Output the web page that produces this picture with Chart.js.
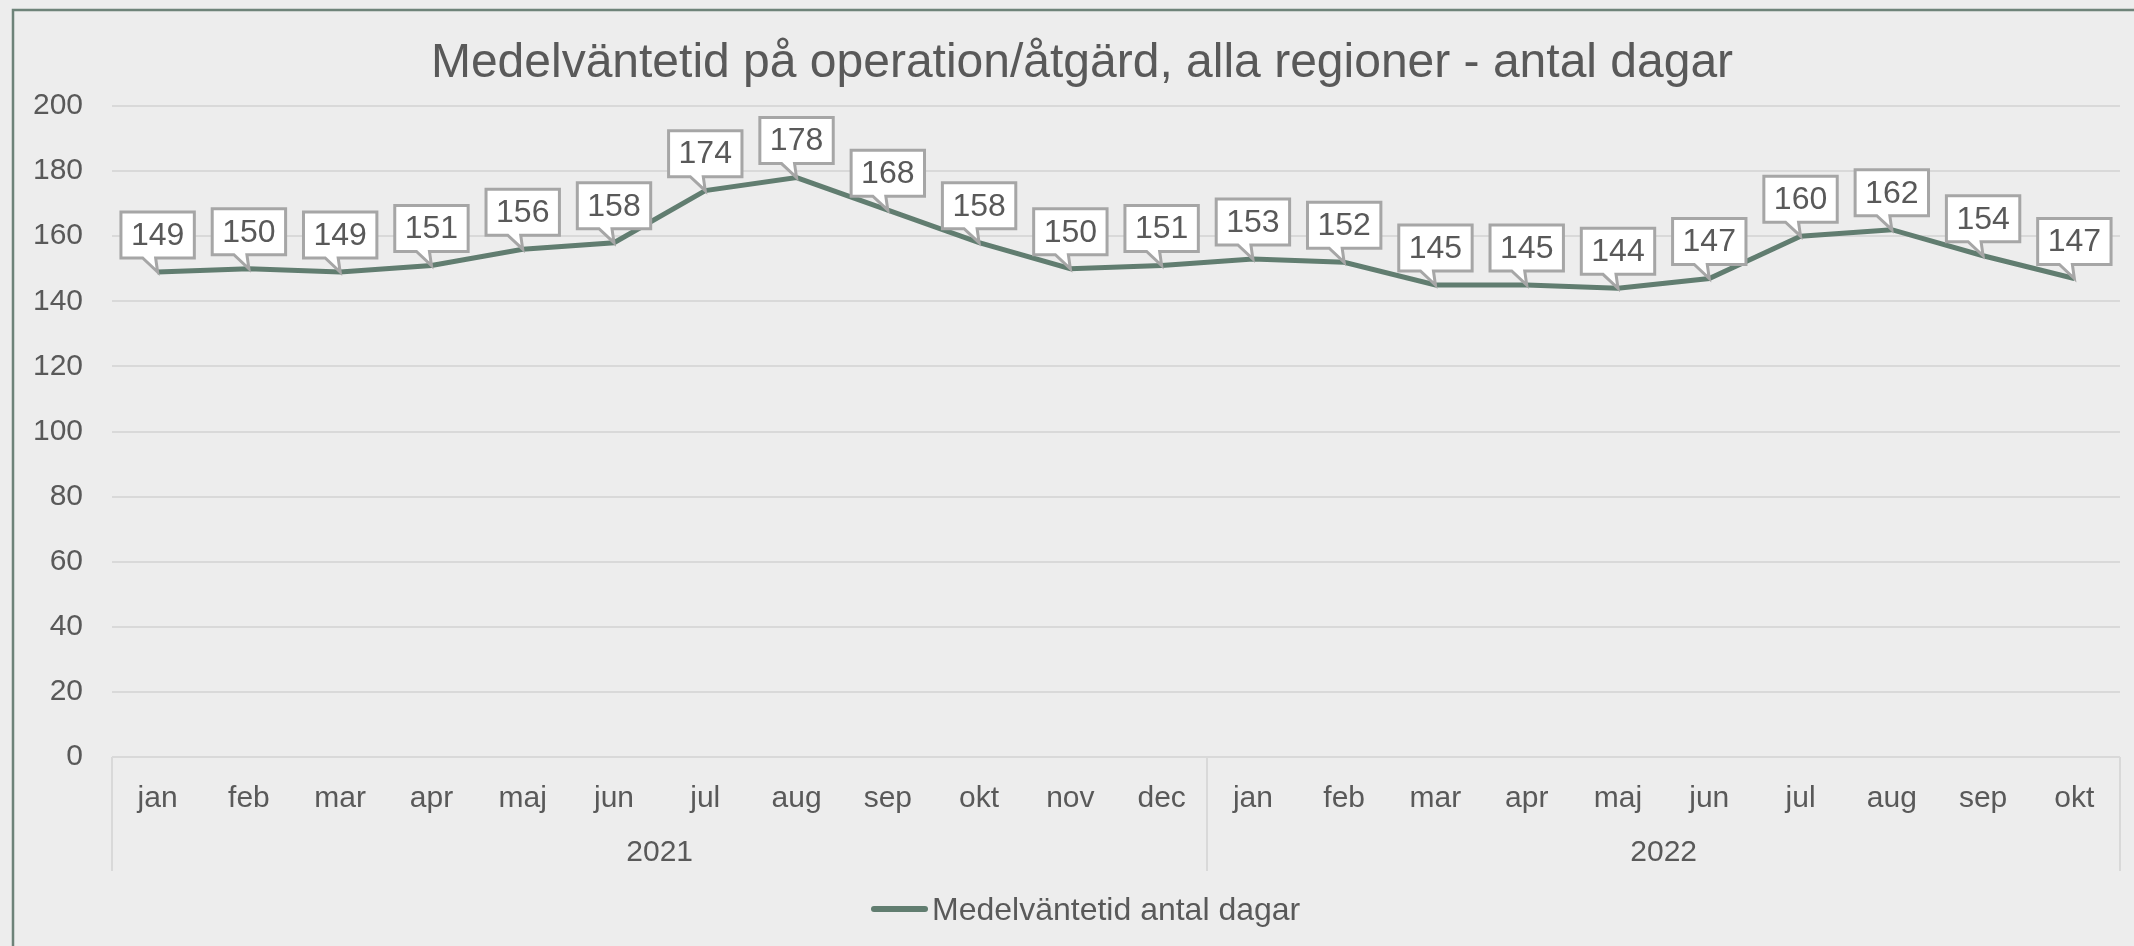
<!DOCTYPE html>
<html lang="sv">
<head>
<meta charset="utf-8">
<title>Medelväntetid på operation/åtgärd</title>
<script src="https://cdn.jsdelivr.net/npm/chart.js@4/dist/chart.umd.min.js"></script>
<style>
  html, body { margin: 0; padding: 0; background: #ededed; overflow: hidden; }
  canvas { display: block; }
</style>
</head>
<body>
<canvas id="waitChart" width="2134" height="946"></canvas>
<script>
const months = ['jan', 'feb', 'mar', 'apr', 'maj', 'jun', 'jul', 'aug', 'sep', 'okt', 'nov', 'dec',
                'jan', 'feb', 'mar', 'apr', 'maj', 'jun', 'jul', 'aug', 'sep', 'okt'];
const years = ['2021', '2022'];
const monthsPerYear = [12, 10];
const waitDays = [149, 150, 149, 151, 156, 158, 174, 178, 168, 158, 150, 151,
                  153, 152, 145, 145, 144, 147, 160, 162, 154, 147];
const yTicks = [0, 20, 40, 60, 80, 100, 120, 140, 160, 180, 200];

const FONT = '"Liberation Sans", Arial, sans-serif';
const TEXT = '#595959';
const GRID = '#d9d9d9';
const LINE = '#617d70';

// background, frame, title, legend, year row and the callout labels
const decorations = {
    id: 'decorations',
    beforeDraw(chart) {
        const ctx = chart.ctx;
        ctx.save();
        ctx.fillStyle = '#ededed';
        ctx.fillRect(0, 0, chart.width, chart.height);
        ctx.strokeStyle = '#6e8379';
        ctx.lineWidth = 2.5;
        ctx.strokeRect(13, 10, chart.width + 20, chart.height + 20);

        ctx.fillStyle = TEXT;
        ctx.font = '48px ' + FONT;
        ctx.textAlign = 'center';
        ctx.textBaseline = 'alphabetic';
        ctx.fillText('Medelväntetid på operation/åtgärd, alla regioner - antal dagar', 1082, 77);
        ctx.restore();
    },
    afterDraw(chart) {
        const ctx = chart.ctx;
        const x = chart.scales.x;
        const area = chart.chartArea;
        const step = x.getPixelForValue(1) - x.getPixelForValue(0);

        // year separators and labels
        ctx.save();
        ctx.strokeStyle = GRID;
        ctx.lineWidth = 2;
        let start = 0;
        const edges = [x.getPixelForValue(0) - step / 2];
        monthsPerYear.forEach(n => {
            start += n;
            edges.push(x.getPixelForValue(start - 1) + step / 2);
        });
        edges.forEach(px => {
            ctx.beginPath();
            ctx.moveTo(Math.round(px), area.bottom);
            ctx.lineTo(Math.round(px), 871);
            ctx.stroke();
        });
        ctx.fillStyle = TEXT;
        ctx.font = '30px ' + FONT;
        ctx.textAlign = 'center';
        ctx.textBaseline = 'middle';
        years.forEach((yr, i) => {
            ctx.fillText(yr, (edges[i] + edges[i + 1]) / 2, 853);
        });

        // legend
        ctx.strokeStyle = LINE;
        ctx.lineWidth = 6;
        ctx.lineCap = 'round';
        ctx.beginPath();
        ctx.moveTo(874, 909);
        ctx.lineTo(925, 909);
        ctx.stroke();
        ctx.font = '32px ' + FONT;
        ctx.textAlign = 'left';
        ctx.textBaseline = 'alphabetic';
        ctx.fillText('Medelväntetid antal dagar', 932, 920);
        ctx.restore();
    },
    afterDatasetsDraw(chart) {
        const ctx = chart.ctx;
        const meta = chart.getDatasetMeta(0);
        ctx.save();
        ctx.font = '32px ' + FONT;
        meta.data.forEach((pt, i) => {
            const label = String(chart.data.datasets[0].data[i]);
            const w = ctx.measureText(label).width + 20;
            const h = 46;
            const bottom = pt.y - 14;
            const top = bottom - h;
            const left = pt.x - w / 2;
            const right = pt.x + w / 2;
            ctx.beginPath();
            ctx.moveTo(left, top);
            ctx.lineTo(right, top);
            ctx.lineTo(right, bottom);
            ctx.lineTo(pt.x - 2, bottom);
            ctx.lineTo(pt.x, pt.y);
            ctx.lineTo(pt.x - 15, bottom);
            ctx.lineTo(left, bottom);
            ctx.closePath();
            ctx.fillStyle = '#ffffff';
            ctx.fill();
            ctx.strokeStyle = '#a6a6a6';
            ctx.lineWidth = 3;
            ctx.lineJoin = 'miter';
            ctx.stroke();
            ctx.fillStyle = TEXT;
            ctx.textAlign = 'center';
            ctx.textBaseline = 'middle';
            ctx.fillText(label, pt.x, top + h / 2 + 1);
        });
        ctx.restore();
    }
};

new Chart(document.getElementById('waitChart'), {
    type: 'line',
    data: {
        labels: months,
        datasets: [{
            label: 'Medelväntetid antal dagar',
            data: waitDays,
            borderColor: LINE,
            borderWidth: 5,
            pointRadius: 0,
            tension: 0,
            fill: false
        }]
    },
    options: {
        responsive: false,
        animation: false,
        layout: { padding: { top: 106, right: 14, left: 0, bottom: 0 } },
        plugins: {
            legend: { display: false },
            title: { display: false },
            tooltip: { enabled: false }
        },
        scales: {
            x: {
                type: 'category',
                offset: true,
                grid: { display: false, drawTicks: false },
                border: { display: false },
                ticks: {
                    color: TEXT,
                    font: { family: FONT, size: 30 },
                    padding: 24,
                    maxRotation: 0,
                    autoSkip: false
                },
                afterFit(scale) { scale.height = 946 - 757; }
            },
            y: {
                min: 0,
                max: 200,
                afterBuildTicks(scale) { scale.ticks = yTicks.map(v => ({ value: v })); },
                grid: { color: GRID, lineWidth: 2, drawTicks: false },
                border: { display: false },
                ticks: {
                    color: TEXT,
                    font: { family: FONT, size: 30 },
                    padding: 29
                },
                afterFit(scale) { scale.width = 112; }
            }
        }
    },
    plugins: [decorations]
});
</script>
</body>
</html>
